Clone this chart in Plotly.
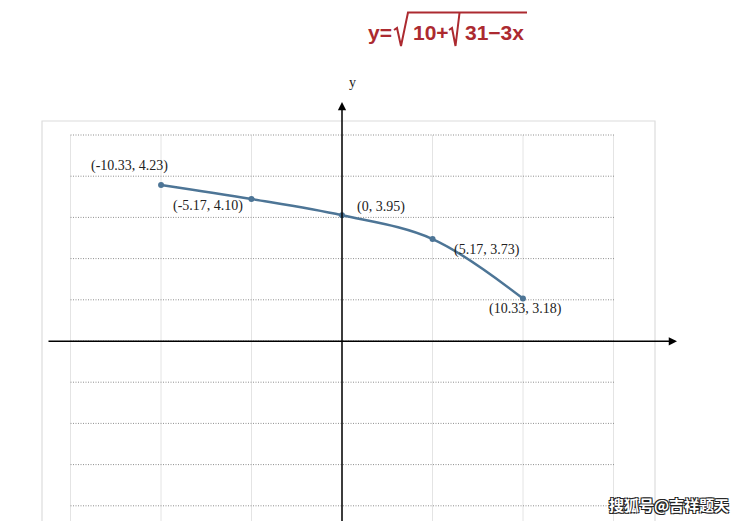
import plotly.graph_objects as go

# data
x_vals = [-10.33, -5.17, 0, 5.17, 10.33]
y_vals = [4.23, 4.10, 3.95, 3.73, 3.18]
title_parts = ["y=", "10+", "31\u22123x"]
axis_label = "y"
watermark = "搜狐号@吉祥题天"

W, H = 745, 521
# pixel <-> data mapping (the picture is a sketch, y is not to scale)
X0_PX, X_SCALE = 342, 90.5 / (31 / 6)
Y0_PX, Y0_VAL, Y_SCALE = 341.3, 2.785, 108.2


def dx(px):
    return (px - X0_PX) / X_SCALE


def dy(py):
    return Y0_VAL + (Y0_PX - py) / Y_SCALE


def pp(px, py):
    return px / W, 1 - py / H


fig = go.Figure()

# grid
shapes = []
for k in range(-3, 4):
    xv = k * 31 / 6
    shapes.append(dict(type="line", xref="x", yref="y", x0=xv, x1=xv, y0=dy(135), y1=dy(530),
                       line=dict(color="#e4e4e4", width=1), layer="below"))
for i in range(10):
    yv = dy(135 + i * 41.2)
    shapes.append(dict(type="line", xref="x", yref="y", x0=dx(70.5), x1=dx(614), y0=yv, y1=yv,
                       line=dict(color="#8f8f8f", width=1, dash="1px,1.5px"), layer="below"))
# outer frame
bx0, by0 = pp(42, 121)
bx1, by1 = pp(655, 540)
shapes.append(dict(type="rect", xref="paper", yref="paper", x0=bx0, x1=bx1, y0=by1, y1=by0,
                   line=dict(color="#dcdcdc", width=1.2), layer="below"))


# radical signs of the title
def radical(pts):
    path = ""
    for j, (px, py) in enumerate(pts):
        a, b = pp(px, py)
        path += ("M" if j == 0 else "L") + f"{a},{b} "
    return dict(type="path", xref="paper", yref="paper", path=path,
                line=dict(color="#ac2a30", width=2))


shapes.append(radical([(394, 30), (397, 28), (401, 46), (408, 12.5), (527, 12.5)]))
shapes.append(radical([(449, 30), (452, 28), (455.5, 46), (459.5, 13)]))

fig.add_trace(go.Scatter(
    x=x_vals, y=y_vals, mode="lines+markers",
    line=dict(color="#4d7596", width=2.5, shape="spline"),
    marker=dict(color="#4d7596", size=6),
    hoverinfo="x+y", showlegend=False,
))

ann = []
# axis arrows
ann.append(dict(x=dx(677), y=dy(Y0_PX), ax=dx(47), ay=dy(Y0_PX), xref="x", yref="y",
                axref="x", ayref="y", text="", showarrow=True, arrowhead=2,
                arrowsize=1.1, arrowwidth=1.5, arrowcolor="black"))
ann.append(dict(x=0, y=dy(102), ax=0, ay=dy(530), xref="x", yref="y",
                axref="x", ayref="y", text="", showarrow=True, arrowhead=2,
                arrowsize=1.1, arrowwidth=1.5, arrowcolor="black"))
ann.append(dict(x=dx(352.5), y=dy(82), text=axis_label, showarrow=False,
                font=dict(family="Liberation Serif", size=14, color="#222")))

# point labels
offsets = [(-32, -19), (-43, 7), (39, -8), (54, 11), (3, 10)]
for (xv, yv), (ox, oy) in zip(zip(x_vals, y_vals), offsets):
    ann.append(dict(x=xv, y=yv, text=f"({xv:g}, {yv:.2f})", showarrow=False,
                    xshift=ox, yshift=-oy, xanchor="center", yanchor="middle",
                    font=dict(family="Liberation Serif", size=14, color="#222")))

# title pieces
for txt, cx in zip(title_parts, [380, 431, 494.5]):
    a, b = pp(cx, 33)
    ann.append(dict(x=a, y=b, xref="paper", yref="paper", text=f"<b>{txt}</b>",
                    showarrow=False, xanchor="center", yanchor="middle",
                    font=dict(family="Liberation Sans", size=21, color="#ac2a30")))

# watermark
a, b = pp(669, 504)
ann.append(dict(x=a, y=b, xref="paper", yref="paper", text=f"<b>{watermark}</b>",
                showarrow=False, xanchor="center", yanchor="middle",
                font=dict(family="Noto Sans CJK SC", size=15, color="white",
                          shadow="1px 1px 0px #222, -1px -1px 0px #222, 1px -1px 0px #222, -1px 1px 0px #222")))

fig.update_layout(
    width=W, height=H, autosize=False,
    margin=dict(l=0, r=0, t=0, b=0),
    paper_bgcolor="white", plot_bgcolor="white",
    xaxis=dict(range=[dx(0), dx(W)], visible=False, fixedrange=True),
    yaxis=dict(range=[dy(H), dy(0)], visible=False, fixedrange=True),
    shapes=shapes, annotations=ann,
)

fig.write_html("out.html", config={"displayModeBar": False},
               post_script="document.body.style.margin='0px';")
